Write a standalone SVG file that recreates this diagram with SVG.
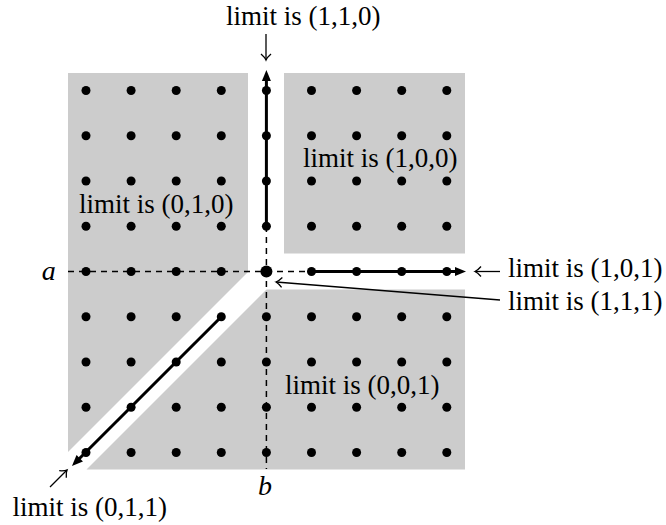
<svg xmlns="http://www.w3.org/2000/svg" width="666" height="525" viewBox="0 0 666 525">
<defs>
<style>
.reg{fill:#cccccc;stroke:none}
.dot{fill:#000}
.dash{stroke:#000;stroke-width:1.5;stroke-dasharray:6 5;fill:none}
.thick{stroke:#000;stroke-width:3;fill:none;marker-end:url(#head)}
.ptr{stroke:#000;stroke-width:1.3;fill:none;marker-end:url(#open)}
.lbl{font-family:"Liberation Serif","Times New Roman",serif;font-size:27px;fill:#000}
.it{font-family:"Liberation Serif","Times New Roman",serif;font-size:28px;font-style:italic;fill:#000}
</style>
<marker id="head" markerUnits="userSpaceOnUse" markerWidth="12" markerHeight="10" refX="5" refY="4.5" orient="auto" overflow="visible">
<path d="M0,0 L11,4.5 L0,9 z" fill="#000"/>
</marker>
<marker id="open" markerUnits="userSpaceOnUse" markerWidth="12" markerHeight="12" refX="0" refY="0" orient="auto" overflow="visible">
<path d="M-6,-5 Q-2.5,-1 0,0 Q-2.5,1 -6,5" fill="none" stroke="#000" stroke-width="1.3"/>
</marker>
</defs>
<rect width="666" height="525" fill="#fff"/>
<g id="regions">
<polygon id="region-010" class="reg" points="68,73 248,73 248,272 68,452"/>
<rect id="region-100" class="reg" x="284" y="73" width="181" height="180.5"/>
<polygon id="region-001" class="reg" points="266.5,289.5 465,289.5 465,469.5 86.5,469.5"/>
</g>
<g id="connectors">
<line class="dash" x1="68" y1="271.5" x2="311" y2="271.5"/>
<line class="dash" x1="266.4" y1="226" x2="266.4" y2="469"/>
<line class="thick" x1="266.4" y1="226.25" x2="266.4" y2="76"/>
<line class="thick" x1="311.5" y1="271.5" x2="460" y2="271.5"/>
<line class="thick" x1="221.3" y1="316.75" x2="76.2" y2="461.8"/>
<line class="ptr" x1="500" y1="300" x2="276" y2="282"/>
<line class="ptr" x1="266" y1="34" x2="266" y2="60"/>
<line class="ptr" x1="500" y1="271.5" x2="475" y2="271.5"/>
<line class="ptr" x1="50" y1="487" x2="67" y2="470"/>
</g>
<g id="dots">
<g id="row0"><circle class="dot" cx="86" cy="90.5" r="4.5"/><circle class="dot" cx="131.1" cy="90.5" r="4.5"/><circle class="dot" cx="176.2" cy="90.5" r="4.5"/><circle class="dot" cx="221.3" cy="90.5" r="4.5"/><circle class="dot" cx="266.4" cy="90.5" r="4.5"/><circle class="dot" cx="311.5" cy="90.5" r="4.5"/><circle class="dot" cx="356.6" cy="90.5" r="4.5"/><circle class="dot" cx="401.7" cy="90.5" r="4.5"/><circle class="dot" cx="446.8" cy="90.5" r="4.5"/></g>
<g id="row1"><circle class="dot" cx="86" cy="135.75" r="4.5"/><circle class="dot" cx="131.1" cy="135.75" r="4.5"/><circle class="dot" cx="176.2" cy="135.75" r="4.5"/><circle class="dot" cx="221.3" cy="135.75" r="4.5"/><circle class="dot" cx="266.4" cy="135.75" r="4.5"/><circle class="dot" cx="311.5" cy="135.75" r="4.5"/><circle class="dot" cx="356.6" cy="135.75" r="4.5"/><circle class="dot" cx="401.7" cy="135.75" r="4.5"/><circle class="dot" cx="446.8" cy="135.75" r="4.5"/></g>
<g id="row2"><circle class="dot" cx="86" cy="181" r="4.5"/><circle class="dot" cx="131.1" cy="181" r="4.5"/><circle class="dot" cx="176.2" cy="181" r="4.5"/><circle class="dot" cx="221.3" cy="181" r="4.5"/><circle class="dot" cx="266.4" cy="181" r="4.5"/><circle class="dot" cx="311.5" cy="181" r="4.5"/><circle class="dot" cx="356.6" cy="181" r="4.5"/><circle class="dot" cx="401.7" cy="181" r="4.5"/><circle class="dot" cx="446.8" cy="181" r="4.5"/></g>
<g id="row3"><circle class="dot" cx="86" cy="226.25" r="4.5"/><circle class="dot" cx="131.1" cy="226.25" r="4.5"/><circle class="dot" cx="176.2" cy="226.25" r="4.5"/><circle class="dot" cx="221.3" cy="226.25" r="4.5"/><circle class="dot" cx="266.4" cy="226.25" r="4.5"/><circle class="dot" cx="311.5" cy="226.25" r="4.5"/><circle class="dot" cx="356.6" cy="226.25" r="4.5"/><circle class="dot" cx="401.7" cy="226.25" r="4.5"/><circle class="dot" cx="446.8" cy="226.25" r="4.5"/></g>
<g id="row4"><circle class="dot" cx="86" cy="271.5" r="4.5"/><circle class="dot" cx="131.1" cy="271.5" r="4.5"/><circle class="dot" cx="176.2" cy="271.5" r="4.5"/><circle class="dot" cx="221.3" cy="271.5" r="4.5"/><circle id="origin" class="dot" cx="266.4" cy="271.5" r="6"/><circle class="dot" cx="311.5" cy="271.5" r="4.5"/><circle class="dot" cx="356.6" cy="271.5" r="4.5"/><circle class="dot" cx="401.7" cy="271.5" r="4.5"/><circle class="dot" cx="446.8" cy="271.5" r="4.5"/></g>
<g id="row5"><circle class="dot" cx="86" cy="316.75" r="4.5"/><circle class="dot" cx="131.1" cy="316.75" r="4.5"/><circle class="dot" cx="176.2" cy="316.75" r="4.5"/><circle class="dot" cx="221.3" cy="316.75" r="4.5"/><circle class="dot" cx="266.4" cy="316.75" r="4.5"/><circle class="dot" cx="311.5" cy="316.75" r="4.5"/><circle class="dot" cx="356.6" cy="316.75" r="4.5"/><circle class="dot" cx="401.7" cy="316.75" r="4.5"/><circle class="dot" cx="446.8" cy="316.75" r="4.5"/></g>
<g id="row6"><circle class="dot" cx="86" cy="362" r="4.5"/><circle class="dot" cx="131.1" cy="362" r="4.5"/><circle class="dot" cx="176.2" cy="362" r="4.5"/><circle class="dot" cx="221.3" cy="362" r="4.5"/><circle class="dot" cx="266.4" cy="362" r="4.5"/><circle class="dot" cx="311.5" cy="362" r="4.5"/><circle class="dot" cx="356.6" cy="362" r="4.5"/><circle class="dot" cx="401.7" cy="362" r="4.5"/><circle class="dot" cx="446.8" cy="362" r="4.5"/></g>
<g id="row7"><circle class="dot" cx="86" cy="407.25" r="4.5"/><circle class="dot" cx="131.1" cy="407.25" r="4.5"/><circle class="dot" cx="176.2" cy="407.25" r="4.5"/><circle class="dot" cx="221.3" cy="407.25" r="4.5"/><circle class="dot" cx="266.4" cy="407.25" r="4.5"/><circle class="dot" cx="311.5" cy="407.25" r="4.5"/><circle class="dot" cx="356.6" cy="407.25" r="4.5"/><circle class="dot" cx="401.7" cy="407.25" r="4.5"/><circle class="dot" cx="446.8" cy="407.25" r="4.5"/></g>
<g id="row8"><circle class="dot" cx="86" cy="452.5" r="4.5"/><circle class="dot" cx="131.1" cy="452.5" r="4.5"/><circle class="dot" cx="176.2" cy="452.5" r="4.5"/><circle class="dot" cx="221.3" cy="452.5" r="4.5"/><circle class="dot" cx="266.4" cy="452.5" r="4.5"/><circle class="dot" cx="311.5" cy="452.5" r="4.5"/><circle class="dot" cx="356.6" cy="452.5" r="4.5"/><circle class="dot" cx="401.7" cy="452.5" r="4.5"/><circle class="dot" cx="446.8" cy="452.5" r="4.5"/></g>
</g>
<g id="labels">
<g id="label-110"><text class="lbl" x="226" y="24.5">limit is (1,1,0)</text></g>
<g id="label-010"><text class="lbl" x="79" y="213">limit is (0,1,0)</text></g>
<g id="label-100"><text class="lbl" x="303" y="166.5">limit is (1,0,0)</text></g>
<g id="label-001"><text class="lbl" x="285" y="393.5">limit is (0,0,1)</text></g>
<g id="label-101"><text class="lbl" x="508" y="277">limit is (1,0,1)</text></g>
<g id="label-111"><text class="lbl" x="508" y="310">limit is (1,1,1)</text></g>
<g id="label-011"><text class="lbl" x="12.5" y="516">limit is (0,1,1)</text></g>
<g id="axis-a"><text class="it" x="41.7" y="280">a</text></g>
<g id="axis-b"><text class="it" x="258" y="495">b</text></g>
</g>
</svg>
